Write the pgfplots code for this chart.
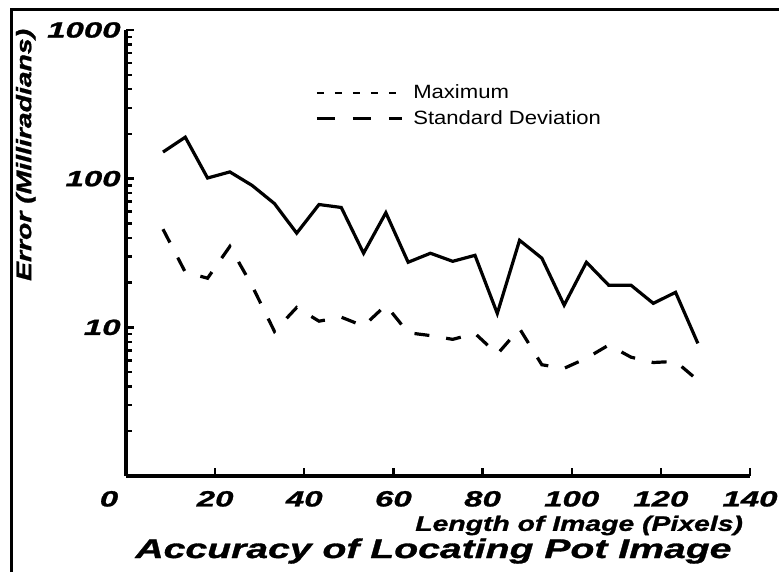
\documentclass[border=0pt]{standalone}
\usepackage{fontspec}
\setmainfont{Liberation Sans}
\newfontfamily\bwfont[FakeStretch=1.35, BoldItalicFeatures={FakeBold=1.2}]{Liberation Sans}
\newfontfamily\tkfont[FakeStretch=1.5, BoldItalicFeatures={FakeBold=1.2}]{Liberation Sans}
\newfontfamily\ttlfont[FakeStretch=1.45, BoldItalicFeatures={FakeBold=1.2}]{Liberation Sans}
\newfontfamily\legfont[FakeStretch=1.15]{Liberation Sans}
\usepackage{pgfplots}
\pgfplotsset{compat=1.18}
\newcommand\labfont{\bwfont\bfseries\itshape\fontsize{10.5}{12}\selectfont}
\newcommand\tickfont{\tkfont\bfseries\itshape\fontsize{11}{13}\selectfont}

\pgfplotstableread{
x y
8.3 151
13.3 190
18.3 101
23.3 111
28.3 90
33.3 68
38.3 43
43.3 67
48.3 64
53.3 31.5
58.3 59
63.3 27.4
68.3 31.5
73.3 27.8
78.3 30.5
83.3 12.4
88.3 38.5
93.3 29.2
98.3 14.1
103.3 27.4
108.3 19.2
113.3 19.2
118.3 14.5
123.3 17.2
128.3 7.8
}\maxdata

\pgfplotstableread{
x y
8.3 45.7
13.3 23.5
18.3 21.4
23.3 35
28.3 19
33.3 9.4
38.3 13.6
43.3 11.0
48.3 11.7
53.3 10.2
58.3 14.1
63.3 9.2
68.3 8.8
73.3 8.3
78.3 9.1
83.3 6.6
88.3 9.8
93.3 5.6
98.3 5.3
103.3 6.2
108.3 7.6
113.3 6.3
118.3 5.8
123.3 5.9
128.3 4.4
}\sddata

\begin{document}
\begin{tikzpicture}
\useasboundingbox (-63pt,-48pt) rectangle (326.5pt,238pt);
\draw[line width=1.5pt] (-57pt,-48pt) -- (-57pt,233pt) -- (326.5pt,233pt);
\begin{axis}[
  at={(0,0)}, anchor=south west,
  scale only axis, width=312pt, height=223pt,
  xmin=0, xmax=140, ymin=1, ymax=1000, ymode=log,
  axis x line*=bottom, axis y line*=left,
  axis line style={line width=1.8pt},
  xtick={0,20,...,140},
  xticklabels={0\hspace*{17pt},20,40,60,80,100,120,140},
  ytick={10,100,1000}, yticklabels={10,100,1000},
  minor ytick={2,3,4,5,6,7,8,9,20,30,40,50,60,70,80,90,200,300,400,500,600,700,800,900},
  tick align=inside,
  major tick length=4pt, minor tick length=3pt,
  every tick/.style={line width=1.2pt, black},
  tick label style={font=\tickfont},
  /pgf/number format/assume math mode=true,
  xticklabel style={yshift=-4pt},
  yticklabel style={inner sep=2.5pt},
  xlabel={Length of Image (Pixels)},
  xlabel style={at={(rel axis cs:1,-0.123)}, anchor=base east, font=\labfont},
  ylabel={Error (Milliradians)},
  ylabel style={at={(rel axis cs:-0.152,0.72)}, anchor=base, font=\labfont},
  legend style={at={(rel axis cs:0.303,0.885)}, anchor=north west, draw=none, fill=none,
    font=\legfont\fontsize{9.6}{11.5}\selectfont, row sep=1.3pt, inner sep=0pt,
    nodes={inner sep=1.5pt},
    /tikz/every odd column/.append style={column sep=3.5pt}},
  legend cell align=left,
  legend image code/.code={\draw[#1] (0pt,0pt) -- (42.5pt,0pt);},
]
\addplot[line width=1.6pt, forget plot] table {\maxdata};
\addplot[line width=1.6pt, dash pattern=on 7.5pt off 8.5pt, forget plot] table {\sddata};
\addlegendimage{line width=1pt, dash pattern=on 3.5pt off 5.5pt}
\addlegendentry{Maximum}
\addlegendimage{line width=1.4pt, dash pattern=on 9pt off 9pt}
\addlegendentry{Standard Deviation}
\end{axis}
\node[anchor=base west, inner sep=0pt, font=\ttlfont\bfseries\itshape\fontsize{13.5}{15}\selectfont] at (4.5pt,-41pt) {Accuracy of Locating Pot Image};
\end{tikzpicture}
\end{document}
